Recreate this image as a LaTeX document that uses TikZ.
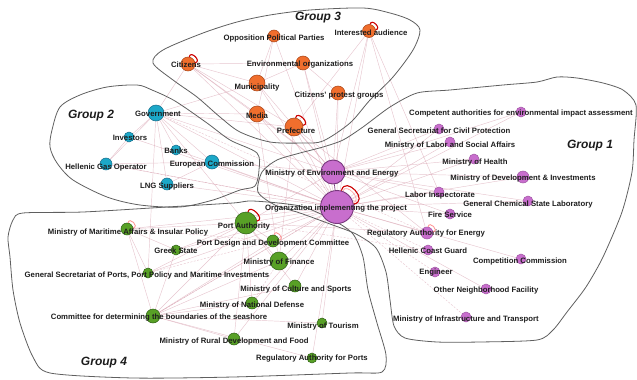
\documentclass[tikz,border=0pt]{standalone}
\usepackage{fontspec}
\setmainfont{Liberation Sans}
\usetikzlibrary{backgrounds}
\definecolor{orF}{RGB}{240,110,45}\definecolor{orD}{RGB}{165,65,20}
\definecolor{cyF}{RGB}{28,168,200}\definecolor{cyD}{RGB}{20,105,135}
\definecolor{puF}{RGB}{200,110,205}\definecolor{puD}{RGB}{120,55,125}
\definecolor{grF}{RGB}{88,160,38}\definecolor{grD}{RGB}{45,95,20}
\definecolor{edgeC}{RGB}{215,160,175}
\definecolor{bnd}{RGB}{95,95,95}
\definecolor{txtC}{RGB}{30,30,30}
\newcommand\mynode[8]{\node[#5,minimum size=#4pt] (#1) at (#2,#3) {}; \node[lbl] (#1-t) at (#7,#8) {#6};}
\begin{document}
\begin{tikzpicture}[x=1pt,y=-1pt,
  base/.style={circle,inner sep=0pt,line width=0.5pt},
  orn/.style={base,fill=orF,draw=orD},
  cyn/.style={base,fill=cyF,draw=cyD},
  pun/.style={base,fill=puF,draw=puF!80!black},
  pub/.style={base,fill=puF,draw=puD,line width=0.9pt},
  grn/.style={base,fill=grF,draw=grD},
  lbl/.style={inner sep=0pt,text=txtC,font=\bfseries\fontsize{7.75}{9}\selectfont},
  grp/.style={inner sep=0pt,text=txtC!90!black,font=\bfseries\itshape\fontsize{12}{14}\selectfont},
  edge/.style={draw=edgeC,line width=0.45pt,opacity=0.6},
  edged/.style={draw=edgeC,line width=0.45pt,opacity=0.6,dash pattern=on 2pt off 1.5pt},
  bline/.style={draw=bnd,line width=0.8pt},
  selfloop/.style={draw=red!80!black,line width=1.1pt},
  innerloop/.style={draw=red!35,line width=0.7pt},
  paleloop/.style={draw=red!45,line width=0.8pt}
]
\useasboundingbox (0,0) rectangle (637,380);

% ---------- Group 3 (orange)
\mynode{cit}{188}{64}{14}{orn}{Citizens}{186}{65}
\mynode{opp}{274}{36}{12}{orn}{Opposition Political Parties}{274}{38}
\mynode{int}{369}{31}{13}{orn}{Interested audience}{371}{33}
\mynode{env}{303}{63}{14}{orn}{Environmental organizations}{300}{65}
\mynode{mun}{257}{83}{16}{orn}{Municipality}{257}{87}
\mynode{cpg}{338}{93}{14}{orn}{Citizens' protest groups}{339}{96}
\mynode{med}{257}{114}{16}{orn}{Media}{257}{116}
\mynode{pre}{294}{127}{18}{orn}{Prefecture}{296}{131}

% ---------- Group 2 (cyan)
\mynode{gov}{156}{113}{16}{cyn}{Government}{158}{114}
\mynode{inv}{129}{137}{10}{cyn}{Investors}{130}{138}
\mynode{bnk}{176}{150}{10}{cyn}{Banks}{176}{151}
\mynode{hgo}{106}{164}{12}{cyn}{Hellenic Gas Operator}{106}{167}
\mynode{ec}{212}{162}{14}{cyn}{European Commission}{212}{164}
\mynode{lng}{167}{184}{12}{cyn}{LNG Suppliers}{167}{186}

% ---------- Group 1 (purple)
\mynode{menv}{333}{172}{24}{pub}{Ministry of Environment and Energy}{332}{174}
\mynode{org}{337}{207}{33}{pub}{Organization implementing the project}{336}{209}
\mynode{cae}{521}{112}{10}{pun}{Competent authorities for environmental impact assessment}{521}{113}
\mynode{gscp}{439}{129}{10}{pun}{General Secretariat for Civil Protection}{439}{131}
\mynode{mlsa}{450}{142}{10}{pun}{Ministry of Labor and Social Affairs}{450}{145}
\mynode{mh}{474}{159}{10}{pun}{Ministry of Health}{475}{162}
\mynode{mdi}{523}{177}{12}{pun}{Ministry of Development \& Investments}{523}{178}
\mynode{li}{439}{192}{10}{pun}{Labor Inspectorate}{440}{195}
\mynode{gcsl}{528}{201}{10}{pun}{General Chemical State Laboratory}{528}{204}
\mynode{fs}{450}{214}{10}{pun}{Fire Service}{450}{215}
\mynode{rae}{427}{233}{12}{pun}{Regulatory Authority for Energy}{426}{234}
\mynode{hcg}{428}{250}{10}{pun}{Hellenic Coast Guard}{428}{251}
\mynode{cc}{521}{259}{10}{pun}{Competition Commission}{520}{261}
\mynode{eng}{435}{272}{10}{pun}{Engineer}{436}{273}
\mynode{onf}{486}{289}{10}{pun}{Other Neighborhood Facility}{486}{291}
\mynode{mit}{466}{317}{10}{pun}{Ministry of Infrastructure and Transport}{466}{319}

% ---------- Group 4 (green)
\mynode{pa}{246}{223}{22}{grn}{Port Authority}{244}{226}
\mynode{mma}{127}{229}{12}{grn}{Ministry of Maritime Affairs \& Insular Policy}{128}{232}
\mynode{gs}{176}{250}{10}{grn}{Greek State}{176}{251}
\mynode{pddc}{273}{241}{12}{grn}{Port Design and Development Committee}{273}{244}
\mynode{mf}{279}{261}{18}{grn}{Ministry of Finance}{279}{262}
\mynode{gspp}{148}{273}{10}{grn}{General Secretariat of Ports, Port Policy and Maritime Investments}{147}{275}
\mynode{mcs}{295}{286}{12}{grn}{Ministry of Culture and Sports}{296}{289}
\mynode{mnd}{252}{303}{12}{grn}{Ministry of National Defense}{252}{305}
\mynode{cdb}{153}{316}{14}{grn}{Committee for determining the boundaries of the seashore}{159}{318}
\mynode{mt}{322}{323}{10}{grn}{Ministry of Tourism}{323}{326}
\mynode{mrdf}{234}{339}{12}{grn}{Ministry of Rural Development and Food}{234}{341}
\mynode{rap}{312}{358}{10}{grn}{Regulatory Authority for Ports}{312}{359}

% group titles
\node[grp] (g3) at (318,18) {Group 3};
\node[grp] (g2) at (91,116) {Group 2};
\node[grp] (g1) at (590,146) {Group 1};
\node[grp] (g4) at (104,363) {Group 4};

\begin{scope}[on background layer]
% edges
\foreach \b in {cae,gscp,mlsa,mh,mdi,li,gcsl,fs,rae,cc,onf,cit,opp,int,env,mun,cpg,med,pre,gov,ec,lng,bnk,hgo,inv,pa,mma,gs,pddc,mf,gspp,mcs,mnd,cdb,mt,mrdf,rap}
  \draw[edge] (org) -- (\b);
\foreach \b in {hcg,eng,mit}
  \draw[edged] (org) -- (\b);
\foreach \b in {cae,gscp,mlsa,mh,mdi,li,gcsl,fs,pre,med,mun,gov,ec,pa,cit,env,int,cpg}
  \draw[edge] (menv) -- (\b);
\foreach \a/\b in {gov/inv,gov/bnk,gov/hgo,gov/ec,gov/lng,gov/mun,gov/med,gov/cit,gov/pre,gov/pa,gov/gspp,
  cit/mun,cit/med,cit/pre,cit/env,opp/med,opp/mun,env/cpg,env/mun,int/pre,int/rae,int/li,
  pa/mma,pa/gs,pa/pddc,pa/mf,pa/gspp,pa/cdb,pa/mcs,pa/mnd,pa/rae,
  cdb/pddc,cdb/mf,cdb/mcs,cdb/mnd,cdb/mma,cdb/gs,cdb/mt,cdb/rap,mma/gspp,mma/gs,mrdf/pa,mrdf/cdb,
  ec/lng,ec/hgo,inv/hgo,pre/rae,med/mf,pre/mf}
  \draw[edge] (\a) -- (\b);
\foreach \a/\b in {gov/rae,hgo/org,gspp/pddc,mma/pddc,cdb/org,mnd/mf,pa/hcg}
  \draw[edged] (\a) -- (\b);
\draw[draw=puD,line width=0.7pt] (menv) -- (org);

% group boundaries
\draw[bline] plot[smooth cycle,tension=0.5] coordinates {
 (153,63) (163,50) (203,33) (237,22) (270,15) (310,10) (363,8) (390,13) (410,20) (420,30)
 (413,50) (393,77) (370,100) (350,123) (323,141) (303,143) (270,142) (240,132) (220,117)
 (197,97) (173,80)};
\draw[bline] plot[smooth cycle,tension=0.5] coordinates {
 (60,107) (80,95) (107,87) (137,85) (152,90) (175,101) (207,123) (230,140) (257,153)
 (259,170) (255,186) (240,190) (213,200) (180,207) (140,205) (107,197) (73,180) (57,163)
 (50,147) (52,130)};
\draw[bline] plot[smooth cycle,tension=0.45] coordinates {
 (258,192) (262,172) (277,160) (300,153) (323,147) (343,140) (363,127) (390,107) (417,93)
 (450,90) (503,85) (537,82) (557,77) (577,78) (603,83) (623,90) (636,105) (634,140)
 (632,172) (622,212) (603,257) (586,287) (567,312) (553,330) (537,340) (480,342) (437,342)
 (405,338) (394,326) (390,300) (386,272) (376,248) (356,234) (330,224) (300,213) (275,205)};
\draw[bline] plot[smooth cycle,tension=0.45] coordinates {
 (13,220) (23,213) (83,212) (167,207) (233,203) (253,201) (300,206) (333,220) (353,234)
 (363,257) (368,290) (377,323) (386,355) (382,372) (350,373) (233,377) (133,378) (50,373)
 (33,357) (20,323) (13,290) (10,257) (8,237)};
\end{scope}

% self loops
\draw[selfloop] (org) to[out=75,in=10,looseness=2.3] (org);
\draw[innerloop] (org) to[out=70,in=15,looseness=1.6] (org);
\draw[selfloop] (pa) to[out=80,in=10,looseness=1.8] (pa);
\draw[selfloop] (pre) to[out=80,in=10,looseness=2] (pre);
\draw[selfloop] (cit) to[out=80,in=10,looseness=2.2] (cit);
\draw[selfloop] (int) to[out=80,in=10,looseness=2.2] (int);
\draw[paleloop] (mma) to[out=80,in=10,looseness=2.4] (mma);
\draw[paleloop] (pddc) to[out=80,in=10,looseness=2.4] (pddc);
\draw[paleloop] (rae) to[out=80,in=10,looseness=2.4] (rae);
\end{tikzpicture}
\end{document}
